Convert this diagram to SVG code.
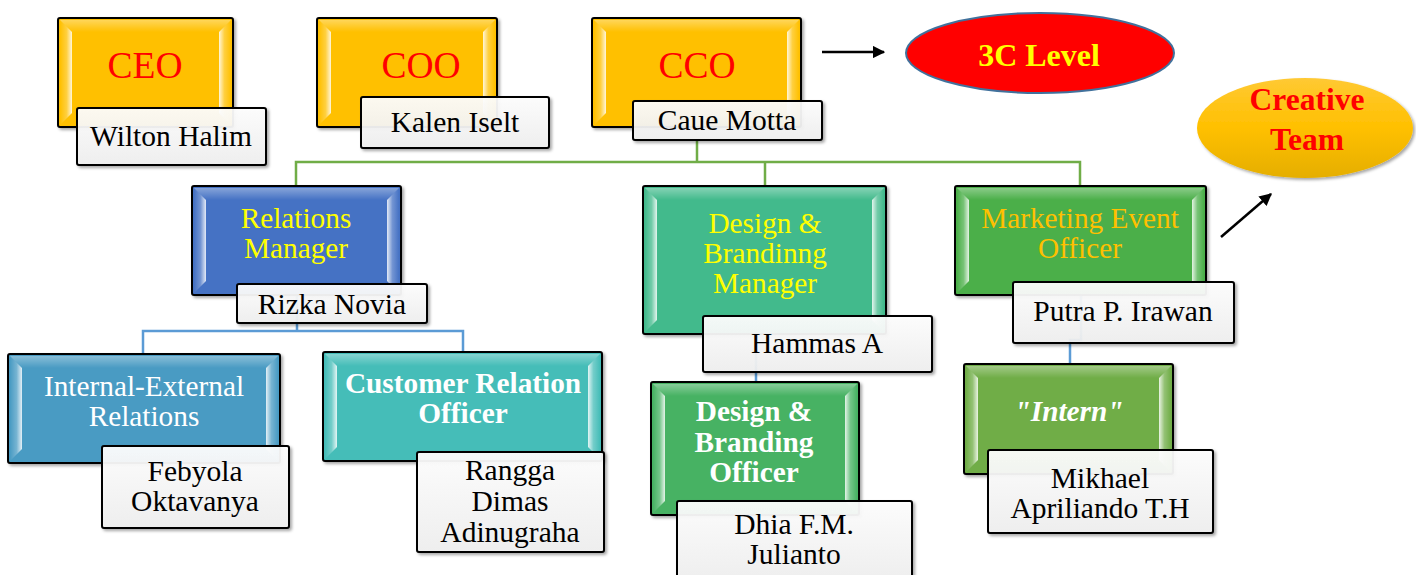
<svg xmlns="http://www.w3.org/2000/svg" width="1416" height="575" viewBox="0 0 1416 575">
<defs>
<style>
text{font-family:"Liberation Serif","Times New Roman",serif;text-anchor:middle}
.box{stroke:#000;stroke-width:2}
.nm{fill:url(#nameG);stroke:#000;stroke-width:2;fill-opacity:0.93}
.nt{font-size:29.5px;fill:#000}
.tt{font-size:29.3px}
.bl{fill:url(#bevL)}
.br{fill:url(#bevR)}
.bt{fill:url(#bevT)}
.conG{fill:none;stroke:#70AD47;stroke-width:2.5}
.conB{fill:none;stroke:#5B9BD5;stroke-width:2.5}
.arr{stroke:#000;stroke-width:2.5;fill:none}
</style>
<linearGradient id="bevL" x1="0" y1="0" x2="1" y2="0">
<stop offset="0" stop-color="#fff" stop-opacity="0"/>
<stop offset="0.55" stop-color="#fff" stop-opacity="0.25"/>
<stop offset="1" stop-color="#fff" stop-opacity="0.85"/>
</linearGradient>
<linearGradient id="bevR" x1="1" y1="0" x2="0" y2="0">
<stop offset="0" stop-color="#fff" stop-opacity="0"/>
<stop offset="0.55" stop-color="#fff" stop-opacity="0.25"/>
<stop offset="1" stop-color="#fff" stop-opacity="0.85"/>
</linearGradient>
<linearGradient id="bevT" x1="0" y1="0" x2="0" y2="1">
<stop offset="0" stop-color="#fff" stop-opacity="0.35"/>
<stop offset="1" stop-color="#fff" stop-opacity="0"/>
</linearGradient>
<linearGradient id="nameG" x1="0" y1="0" x2="0" y2="1">
<stop offset="0" stop-color="#ffffff"/>
<stop offset="1" stop-color="#f0f0f0"/>
</linearGradient>
<linearGradient id="ctG" x1="0" y1="0" x2="0" y2="1">
<stop offset="0" stop-color="#FFC933"/>
<stop offset="0.5" stop-color="#FFC000"/>
<stop offset="1" stop-color="#E5AE00"/>
</linearGradient>
<filter id="sh" x="-10%" y="-10%" width="130%" height="130%">
<feDropShadow dx="2" dy="2" stdDeviation="1.5" flood-color="#000" flood-opacity="0.35"/>
</filter>
<marker id="ah" viewBox="0 0 10 10" refX="9" refY="5" markerWidth="5" markerHeight="5" orient="auto" markerUnits="strokeWidth">
<path d="M0,0 L10,5 L0,10 z" fill="#000"/>
</marker>
</defs>
<rect width="1416" height="575" fill="#fff"/>

<g id="connectors">
<path class="conG" d="M697,140 V162 M296,186 V162 H1080 V186 M765,162 V186"/>
<path class="conB" d="M297,295 V331 H143 V354 M297,331 H463 V352"/>
<path class="conB" d="M756,334 V382"/>
<path class="conB" d="M1081,295 V340 H1070 V364"/>
<line class="arr" x1="822" y1="52" x2="884" y2="52" marker-end="url(#ah)"/>
<line class="arr" x1="1221" y1="237" x2="1271" y2="194" marker-end="url(#ah)"/>
</g>

<g id="ceo">
<rect class="box" x="58" y="18" width="175" height="109" rx="2" fill="#FFC000" filter="url(#sh)"/>
<polygon class="bl" points="60,20 72,32 72,113 60,125"/>
<polygon class="br" points="231,20 219,32 219,113 231,125"/>
<polygon class="bt" points="60,20 231,20 219,32 72,32"/>
<text x="145" y="78" font-size="37.5" fill="#FF0000">CEO</text>
<rect class="nm" x="77" y="108" width="189" height="57" rx="2" filter="url(#sh)"/>
<text class="nt" x="171" y="146">Wilton Halim</text>
</g>

<g id="coo">
<rect class="box" x="317" y="18" width="180" height="109" rx="2" fill="#FFC000" filter="url(#sh)"/>
<polygon class="bl" points="319,20 331,32 331,113 319,125"/>
<polygon class="br" points="495,20 483,32 483,113 495,125"/>
<polygon class="bt" points="319,20 495,20 483,32 331,32"/>
<text x="421" y="78" font-size="37.5" fill="#FF0000">COO</text>
<rect class="nm" x="361" y="97" width="188" height="51" rx="2" filter="url(#sh)"/>
<text class="nt" x="455" y="132">Kalen Iselt</text>
</g>

<g id="cco">
<rect class="box" x="592" y="18" width="209" height="109" rx="2" fill="#FFC000" filter="url(#sh)"/>
<polygon class="bl" points="594,20 606,32 606,113 594,125"/>
<polygon class="br" points="799,20 787,32 787,113 799,125"/>
<polygon class="bt" points="594,20 799,20 787,32 606,32"/>
<text x="697" y="78" font-size="37.5" fill="#FF0000">CCO</text>
<rect class="nm" x="633" y="101" width="189" height="39" rx="2" filter="url(#sh)"/>
<text class="nt" x="727" y="130">Caue Motta</text>
</g>

<g id="level3c">
<ellipse cx="1040" cy="53" rx="134" ry="40" fill="#FF0000" stroke="#41719C" stroke-width="2"/>
<text x="1039" y="66" font-size="32" font-weight="bold" fill="#FFFF00">3C Level</text>
</g>

<g id="creative">
<ellipse cx="1305" cy="128" rx="108" ry="50" fill="url(#ctG)" filter="url(#sh)"/>
<text x="1307" y="110" font-size="31.5" font-weight="bold" fill="#FF0000">Creative</text>
<text x="1307" y="150" font-size="31.5" font-weight="bold" fill="#FF0000">Team</text>
</g>

<g id="relations-manager">
<rect class="box" x="192" y="186" width="209" height="109" rx="2" fill="#4472C4" filter="url(#sh)"/>
<polygon class="bl" points="194,188 206,200 206,281 194,293"/>
<polygon class="br" points="399,188 387,200 387,281 399,293"/>
<polygon class="bt" points="194,188 399,188 387,200 206,200"/>
<text class="tt" x="296" y="228" fill="#FFFF00">Relations</text>
<text class="tt" x="296" y="258" fill="#FFFF00">Manager</text>
<rect class="nm" x="237" y="284" width="190" height="39" rx="2" filter="url(#sh)"/>
<text class="nt" x="332" y="314">Rizka Novia</text>
</g>

<g id="internal-external">
<rect class="box" x="8" y="354" width="272" height="109" rx="2" fill="#4A9BC3" filter="url(#sh)"/>
<polygon class="bl" points="10,356 22,368 22,449 10,461"/>
<polygon class="br" points="278,356 266,368 266,449 278,461"/>
<polygon class="bt" points="10,356 278,356 266,368 22,368"/>
<text class="tt" x="144" y="396" fill="#FFFFFF">Internal-External</text>
<text class="tt" x="144" y="426" fill="#FFFFFF">Relations</text>
<rect class="nm" x="102" y="446" width="187" height="82" rx="2" filter="url(#sh)"/>
<text class="nt" x="195" y="481">Febyola</text>
<text class="nt" x="195" y="511">Oktavanya</text>
</g>

<g id="customer-relation">
<rect class="box" x="323" y="352" width="279" height="109" rx="2" fill="#45BDB8" filter="url(#sh)"/>
<polygon class="bl" points="325,354 337,366 337,447 325,459"/>
<polygon class="br" points="600,354 588,366 588,447 600,459"/>
<polygon class="bt" points="325,354 600,354 588,366 337,366"/>
<text class="tt" x="463" y="393" font-weight="bold" fill="#FFFFFF">Customer Relation</text>
<text class="tt" x="463" y="423" font-weight="bold" fill="#FFFFFF">Officer</text>
<rect class="nm" x="417" y="452" width="187" height="100" rx="2" filter="url(#sh)"/>
<text class="nt" x="510" y="480">Rangga</text>
<text class="nt" x="510" y="511">Dimas</text>
<text class="nt" x="510" y="542">Adinugraha</text>
</g>

<g id="design-manager">
<rect class="box" x="643" y="186" width="243" height="148" rx="2" fill="#43BA8C" filter="url(#sh)"/>
<polygon class="bl" points="645,188 657,200 657,320 645,332"/>
<polygon class="br" points="884,188 872,200 872,320 884,332"/>
<polygon class="bt" points="645,188 884,188 872,200 657,200"/>
<text class="tt" x="765" y="233" fill="#FFFF00">Design &amp;</text>
<text class="tt" x="765" y="263" fill="#FFFF00">Brandinng</text>
<text class="tt" x="765" y="293" fill="#FFFF00">Manager</text>
<rect class="nm" x="703" y="316" width="229" height="56" rx="2" filter="url(#sh)"/>
<text class="nt" x="817" y="353">Hammas A</text>
</g>

<g id="design-officer">
<rect class="box" x="651" y="382" width="208" height="133" rx="2" fill="#47B263" filter="url(#sh)"/>
<polygon class="bl" points="653,384 665,396 665,501 653,513"/>
<polygon class="br" points="857,384 845,396 845,501 857,513"/>
<polygon class="bt" points="653,384 857,384 845,396 665,396"/>
<text class="tt" x="754" y="421" font-weight="bold" fill="#FFFFFF">Design &amp;</text>
<text class="tt" x="754" y="452" font-weight="bold" fill="#FFFFFF">Branding</text>
<text class="tt" x="754" y="482" font-weight="bold" fill="#FFFFFF">Officer</text>
<rect class="nm" x="677" y="501" width="235" height="80" rx="2" filter="url(#sh)"/>
<text class="nt" x="794" y="534">Dhia F.M.</text>
<text class="nt" x="794" y="564">Julianto</text>
</g>

<g id="marketing-event">
<rect class="box" x="955" y="186" width="251" height="109" rx="2" fill="#4CAF48" filter="url(#sh)"/>
<polygon class="bl" points="957,188 969,200 969,281 957,293"/>
<polygon class="br" points="1204,188 1192,200 1192,281 1204,293"/>
<polygon class="bt" points="957,188 1204,188 1192,200 969,200"/>
<text class="tt" x="1080" y="228" fill="#FFC000">Marketing Event</text>
<text class="tt" x="1080" y="258" fill="#FFC000">Officer</text>
<rect class="nm" x="1013" y="282" width="221" height="61" rx="2" filter="url(#sh)"/>
<text class="nt" x="1123" y="321">Putra P. Irawan</text>
</g>

<g id="intern">
<rect class="box" x="964" y="364" width="209" height="110" rx="2" fill="#70AD47" filter="url(#sh)"/>
<polygon class="bl" points="966,366 978,378 978,460 966,472"/>
<polygon class="br" points="1171,366 1159,378 1159,460 1171,472"/>
<polygon class="bt" points="966,366 1171,366 1159,378 978,378"/>
<text class="tt" x="1069" y="421" font-weight="bold" font-style="italic" fill="#FFFFFF">"Intern"</text>
<rect class="nm" x="988" y="450" width="225" height="83" rx="2" filter="url(#sh)"/>
<text class="nt" x="1100" y="488">Mikhael</text>
<text class="nt" x="1100" y="518">Apriliando T.H</text>
</g>
</svg>
